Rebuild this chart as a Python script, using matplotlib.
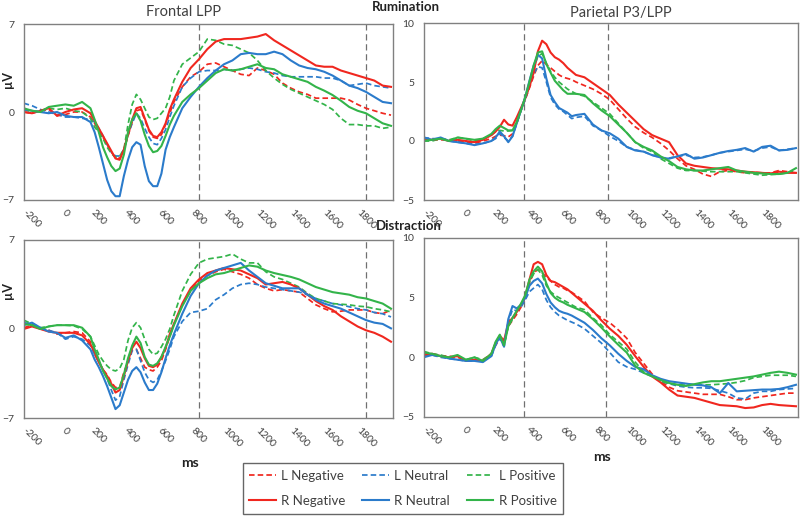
import matplotlib
matplotlib.use("Agg")
import matplotlib.pyplot as plt
from matplotlib.lines import Line2D

plt.rcParams['font.family'] = ['Lato', 'DejaVu Sans']

# time points (ms)
T = [-250, -200, -150, -100, -50, 0, 50, 100, 150,
     175, 200, 225, 250, 275, 300, 325, 350, 375, 400, 425, 450, 475, 500,
     525, 550, 575, 600, 625, 650,
     700, 750, 800, 850, 900, 950, 1000, 1050, 1100, 1150, 1200, 1250, 1300,
     1350, 1400, 1450, 1500, 1550, 1600, 1650, 1700, 1750, 1800, 1850, 1900, 1950]

xticks = [-200, 0, 200, 400, 600, 800, 1000, 1200, 1400, 1600, 1800]

# ---------------- Frontal LPP, Rumination ----------------
fr_rum_Lneg = [0.0, -0.1, 0.1, 0.2, -0.3, -0.2, 0.0, 0.0, -0.4,
               -0.9, -1.5, -2.0, -2.6, -3.2, -3.6, -3.7, -3.0, -1.9, -0.8, 0.1, 0.2, -0.6, -1.5,
               -2.0, -2.1, -1.8, -1.0, -0.1, 0.8,
               2.0, 2.8, 3.2, 3.8, 3.9, 3.6, 3.3, 3.0, 2.9, 3.5, 3.3, 3.0, 2.3,
               1.9, 1.6, 1.4, 1.1, 1.1, 1.1, 1.1, 0.95, 0.6, 0.3, 0.1, -0.1, -0.25]
fr_rum_Lneu = [0.7, 0.5, 0.2, 0.0, -0.2, -0.4, -0.4, -0.5, -0.6,
               -0.8, -1.3, -1.9, -2.6, -3.2, -3.5, -3.5, -3.0, -1.8, -0.9, -0.1, -0.5, -1.3, -2.0,
               -2.5, -2.6, -2.1, -1.4, -0.4, 0.5,
               2.0, 2.7, 3.2, 3.3, 3.3, 3.4, 3.3, 3.4, 3.5, 3.4, 3.2, 3.1, 2.9,
               2.8, 2.8, 2.8, 2.8, 2.7, 2.7, 2.5, 2.1, 2.2, 2.3, 2.1, 2.0, 1.9]
fr_rum_Lpos = [0.2, 0.0, 0.1, 0.3, 0.2, 0.3, 0.1, 0.0, -0.5,
               -1.2, -1.6, -2.1, -2.8, -3.3, -3.6, -3.5, -3.0, -1.0, 0.6, 1.4, 1.0, 0.3, -0.4,
               -0.6, -0.5, -0.1, 0.3, 1.2, 2.5,
               3.8, 4.3, 4.8, 5.8, 5.7, 5.4, 5.3, 5.0, 4.7, 4.1, 3.3, 2.7, 2.2,
               1.8, 1.5, 1.2, 0.9, 0.6, 0.2, -0.5, -1.0, -1.0, -1.1, -1.1, -1.3, -1.2]
fr_rum_Rneg = [0.0, -0.1, 0.1, 0.3, -0.3, 0.0, 0.2, 0.3, -0.1,
               -0.7, -1.3, -1.9, -2.5, -3.1, -3.7, -3.8, -3.0, -1.8, -0.6, 0.3, 0.4, -0.5, -1.4,
               -1.9, -2.0, -1.6, -0.9, 0.2, 1.0,
               2.4, 3.5, 4.2, 5.0, 5.6, 5.8, 5.8, 5.8, 5.9, 6.0, 6.2, 5.7, 5.3,
               4.9, 4.5, 4.1, 3.7, 3.6, 3.6, 3.3, 3.1, 2.9, 2.7, 2.5, 2.1, 2.0]
fr_rum_Rneu = [0.2, 0.1, 0.0, -0.1, 0.0, -0.3, -0.4, -0.4, -0.8,
               -1.6, -2.8, -4.1, -5.4, -6.3, -6.7, -6.7, -5.1, -3.8, -2.8, -2.4, -2.6, -4.3, -5.5,
               -5.9, -5.9, -4.9, -3.0, -2.0, -1.2,
               0.3, 1.2, 2.0, 2.7, 3.3, 3.8, 4.1, 4.6, 4.7, 4.6, 4.6, 4.8, 4.6,
               4.1, 3.7, 3.5, 3.4, 3.2, 2.9, 2.5, 2.1, 1.9, 1.6, 1.2, 0.8, 0.7]
fr_rum_Rpos = [0.3, 0.1, 0.0, 0.4, 0.5, 0.6, 0.5, 0.8, 0.3,
               -0.6, -1.6, -2.8, -3.6, -4.3, -4.7, -4.5, -3.4, -1.6, -0.6, -0.1, -0.7, -1.8, -2.7,
               -3.2, -3.1, -2.7, -1.9, -1.0, -0.3,
               0.8, 1.4, 1.9, 2.5, 3.1, 3.4, 3.3, 3.4, 3.6, 3.8, 3.5, 3.4, 3.0,
               2.8, 2.6, 2.4, 2.0, 1.7, 1.35, 0.9, 0.4, 0.1, -0.1, -0.5, -0.9, -1.1]

# ---------------- Frontal LPP, Distraction ----------------
fr_dis_Lneg = [0.1, 0.3, 0.0, -0.1, -0.4, -0.3, -0.2, -0.3, -1.0,
               -2.0, -2.6, -3.2, -3.6, -4.2, -4.6, -4.6, -3.4, -2.6, -1.6, -1.6, -2.3, -3.0, -3.2,
               -3.3, -3.0, -2.5, -1.6, -0.6, 0.4,
               1.9, 3.0, 3.8, 4.2, 4.5, 4.7, 4.5, 4.3, 4.0, 3.5, 3.2, 3.0, 3.1,
               3.0, 2.9, 2.4, 1.9, 1.6, 1.35, 1.4, 1.5, 1.5, 1.5, 1.3, 1.2, 1.5]
fr_dis_Lneu = [0.5, 0.4, 0.1, -0.1, -0.3, -0.8, -0.6, -0.8, -1.3,
               -2.0, -2.6, -3.2, -3.9, -4.8, -5.6, -5.3, -4.0, -2.8, -1.7, -1.6, -2.5, -3.4, -4.0,
               -4.2, -4.0, -3.3, -2.5, -1.6, -0.6,
               0.6, 1.3, 1.4, 1.6, 2.3, 2.7, 3.2, 3.5, 3.6, 3.5, 3.3, 3.2, 3.1,
               3.0, 2.9, 2.7, 2.4, 2.2, 2.0, 1.9, 1.75, 1.6, 1.5, 1.3, 1.2, 0.95]
fr_dis_Lpos = [0.7, 0.4, 0.1, 0.2, 0.3, 0.3, 0.25, 0.0, -0.6,
               -1.3, -2.0, -2.5, -2.9, -3.2, -3.3, -3.1, -2.4, -0.9, 0.1, 0.5, 0.1, -0.8, -1.6,
               -2.0, -1.9, -1.4, -0.8, 0.0, 1.1,
               3.0, 4.3, 5.2, 5.5, 5.6, 5.7, 5.9, 5.5, 5.2, 5.2, 4.5, 4.1, 3.9,
               3.6, 3.3, 2.8, 2.4, 2.2, 2.0, 1.95, 1.9, 1.8, 1.75, 1.6, 1.5, 1.35]
fr_dis_Rneg = [0.0, 0.2, 0.0, -0.2, -0.3, -0.3, -0.3, -0.5, -1.2,
               -1.8, -2.6, -3.2, -3.7, -4.3, -5.0, -4.8, -3.7, -2.5, -1.5, -1.0, -1.5, -2.3, -2.9,
               -3.0, -2.8, -2.2, -1.5, -0.4, 0.4,
               2.0, 3.2, 3.9, 4.4, 4.6, 4.8, 4.7, 4.6, 4.3, 4.0, 3.5, 3.6, 3.7,
               3.5, 3.2, 2.7, 2.2, 1.8, 1.5, 1.0, 0.6, 0.2, -0.1, -0.3, -0.6, -1.0]
fr_dis_Rneu = [0.3, 0.5, 0.1, -0.2, -0.3, -0.7, -0.5, -0.9, -1.6,
               -2.4, -3.0, -3.7, -4.5, -5.4, -6.3, -6.0, -5.0, -4.0, -3.3, -3.0, -3.4, -4.2, -4.8,
               -4.8, -4.3, -3.4, -2.3, -1.3, -0.4,
               1.2, 2.6, 3.6, 4.2, 4.6, 4.8, 5.0, 5.2, 4.6, 4.1, 3.6, 3.4, 3.2,
               3.2, 3.2, 2.7, 2.3, 2.0, 1.8, 1.6, 1.3, 1.0, 0.7, 0.5, 0.4, 0.05]
fr_dis_Rpos = [0.4, 0.3, 0.0, 0.2, 0.3, 0.3, 0.3, 0.1, -0.6,
               -1.6, -2.4, -3.3, -3.9, -4.5, -4.75, -4.6, -3.6, -2.3, -1.3, -0.6, -1.1, -2.2, -2.8,
               -2.9, -2.7, -2.2, -1.4, -0.6, 0.3,
               1.8, 3.0, 3.6, 4.0, 4.3, 4.4, 4.6, 4.8, 5.0, 4.9, 4.6, 4.4, 4.25,
               4.1, 3.9, 3.6, 3.3, 3.1, 2.9, 2.8, 2.7, 2.5, 2.4, 2.2, 2.0, 1.6]

# ---------------- Parietal P3/LPP, Rumination ----------------
pa_rum_Lneg = [0.2, 0.1, 0.1, 0.1, 0.0, -0.1, -0.2, 0.0, 0.2,
               0.4, 0.5, 0.45, 0.35, 0.6, 1.5, 2.6, 3.5, 4.5, 5.5, 6.4, 6.8, 6.5, 6.2,
               5.9, 5.6, 5.4, 5.3, 5.2, 5.0,
               4.7, 4.4, 4.0, 3.5, 2.7, 1.9, 1.2, 0.7, 0.3, -0.2, -0.8, -1.5, -2.1,
               -2.4, -2.8, -3.0, -2.6, -2.5, -2.6, -2.7, -2.65, -2.7, -2.7, -2.5, -2.6, -2.7]
pa_rum_Lneu = [0.3, 0.2, 0.2, 0.0, -0.1, -0.2, -0.3, -0.2, 0.0,
               0.2, 0.65, 0.3, 0.0, 0.4, 1.5, 2.6, 3.5, 4.7, 5.7, 6.3, 6.2, 5.0, 3.7,
               3.1, 2.7, 2.5, 2.2, 1.9, 2.0,
               2.1, 1.3, 0.9, 0.4, 0.0, -0.5, -0.75, -0.9, -1.2, -1.4, -1.45, -1.3, -1.2,
               -1.4, -1.35, -1.2, -1.0, -0.9, -0.8, -0.7, -0.85, -0.6, -0.5, -0.8, -0.7, -0.6]
pa_rum_Lpos = [0.0, 0.0, 0.2, 0.1, 0.3, 0.2, 0.0, 0.2, 0.5,
               0.8, 0.9, 0.85, 0.85, 0.9, 1.5, 2.6, 3.6, 4.8, 6.1, 7.2, 7.4, 6.6, 5.9,
               5.4, 5.0, 4.7, 4.4, 4.2, 4.0,
               3.8, 3.3, 2.8, 2.3, 1.5, 0.7, -0.1, -0.6, -0.9, -1.5, -1.9, -2.3, -2.5,
               -2.5, -2.55, -2.6, -2.6, -2.6, -2.6, -2.7, -2.8, -2.9, -2.85, -2.8, -2.7, -2.5]
pa_rum_Rneg = [0.1, 0.1, 0.2, 0.0, 0.1, 0.0, -0.1, 0.1, 0.5,
               0.8, 1.2, 1.8, 1.4, 1.3, 2.0, 2.8, 3.6, 4.6, 5.8, 7.6, 8.5, 8.2, 7.5,
               7.1, 6.9, 6.6, 6.2, 5.9, 5.6,
               5.4, 4.9, 4.4, 3.9, 3.1, 2.4, 1.7, 1.0, 0.5, 0.2, -0.1, -1.2, -1.9,
               -2.1, -2.2, -2.3, -2.35, -2.4, -2.5, -2.6, -2.65, -2.7, -2.75, -2.6, -2.7, -2.7]
pa_rum_Rneu = [0.3, 0.1, 0.3, 0.0, -0.1, -0.2, -0.35, -0.2, 0.0,
               0.3, 0.8, 0.4, -0.1, 0.4, 1.5, 2.6, 3.7, 5.1, 6.4, 7.3, 7.0, 5.3, 3.9,
               3.3, 2.8, 2.6, 2.4, 2.1, 2.2,
               2.3, 1.4, 0.9, 0.65, 0.2, -0.5, -0.8, -0.9, -1.2, -1.4, -1.5, -1.3, -1.1,
               -1.5, -1.4, -1.2, -1.0, -0.85, -0.75, -0.6, -0.9, -0.5, -0.4, -0.8, -0.75, -0.6]
pa_rum_Rpos = [0.0, 0.1, 0.2, 0.0, 0.3, 0.2, 0.1, 0.2, 0.6,
               1.0, 1.3, 1.1, 0.9, 0.9, 1.6, 2.6, 3.7, 5.0, 6.4, 7.5, 7.6, 6.5, 5.8,
               5.1, 4.7, 4.3, 4.0, 4.0, 4.0,
               3.9, 3.2, 2.6, 2.1, 1.4, 0.7, -0.1, -0.5, -0.8, -1.3, -1.7, -2.2, -2.4,
               -2.5, -2.5, -2.4, -2.3, -2.2, -2.5, -2.6, -2.7, -2.75, -2.8, -2.8, -2.7, -2.3]

# ---------------- Parietal P3/LPP, Distraction ----------------
pa_dis_Lneg = [0.3, 0.2, 0.1, 0.1, 0.0, -0.2, -0.3, -0.2, 0.2,
               1.0, 1.6, 1.2, 2.6, 3.1, 3.6, 4.2, 5.0, 6.2, 7.1, 7.35, 7.1, 6.7, 6.4,
               6.1, 5.9, 5.8, 5.6, 5.45, 5.2,
               4.7, 3.8, 3.3, 2.9, 2.3, 1.6, 0.4, -0.5, -1.4, -2.0, -2.5, -2.8, -2.9,
               -3.0, -3.1, -3.1, -3.1, -3.3, -3.55, -3.55, -3.4, -3.3, -3.2, -3.1, -3.0, -3.0]
pa_dis_Lneu = [0.1, 0.2, 0.0, -0.1, -0.2, -0.3, -0.3, -0.3, 0.1,
               1.0, 1.6, 0.9, 3.0, 4.0, 3.9, 4.2, 4.8, 5.5, 5.8, 6.1, 5.7, 4.8, 4.2,
               3.8, 3.5, 3.3, 3.1, 2.95, 2.8,
               2.4, 1.8, 1.2, 0.4, -0.4, -0.8, -1.0, -1.3, -1.6, -2.0, -2.2, -2.4, -2.5,
               -2.55, -2.55, -2.6, -2.8, -3.0, -3.4, -3.5, -3.0, -2.85, -2.85, -2.7, -2.65, -2.6]
pa_dis_Lpos = [0.5, 0.3, 0.2, 0.0, 0.1, -0.2, 0.0, -0.2, 0.3,
               1.2, 1.8, 1.1, 2.6, 3.2, 3.8, 4.4, 5.1, 6.3, 7.0, 7.35, 6.9, 6.0, 5.5,
               5.2, 5.0, 4.8, 4.6, 4.4, 4.2,
               4.0, 3.3, 2.7, 1.9, 1.3, 0.7, -0.4, -1.2, -1.6, -2.0, -2.2, -2.3, -2.2,
               -2.3, -2.3, -2.3, -2.25, -2.2, -2.1, -1.95, -1.7, -1.6, -1.5, -1.5, -1.5, -1.6]
pa_dis_Rneg = [0.2, 0.3, 0.1, 0.0, 0.1, -0.3, -0.2, -0.3, 0.3,
               1.2, 1.8, 1.4, 2.9, 3.3, 3.8, 4.4, 5.1, 6.5, 7.8, 8.0, 7.8, 6.9, 6.4,
               6.3, 6.1, 5.9, 5.7, 5.4, 5.1,
               4.5, 3.9, 3.1, 2.4, 1.8, 1.05, 0.1, -0.8, -1.6, -2.1, -2.7, -3.2, -3.3,
               -3.4, -3.6, -3.8, -4.0, -4.05, -4.1, -4.25, -4.2, -4.0, -3.9, -4.0, -4.05, -4.1]
pa_dis_Rneu = [0.0, 0.2, 0.1, -0.1, -0.2, -0.3, -0.3, -0.4, 0.1,
               1.1, 1.7, 0.9, 3.2, 4.3, 4.1, 4.4, 5.0, 6.0, 6.4, 6.6, 6.2, 5.3, 4.6,
               4.2, 3.9, 3.75, 3.65, 3.5, 3.3,
               2.9, 2.3, 1.6, 1.0, 0.3, -0.3, -0.8, -1.0, -1.5, -1.8, -2.0, -2.1, -2.2,
               -2.3, -2.35, -2.5, -3.0, -2.15, -2.85, -2.8, -2.75, -2.7, -2.7, -2.65, -2.5, -2.3]
pa_dis_Rpos = [0.4, 0.3, 0.1, 0.0, 0.2, -0.2, 0.0, -0.3, 0.3,
               1.3, 1.9, 1.0, 2.6, 3.3, 3.9, 4.5, 5.2, 6.5, 7.2, 7.6, 7.2, 6.2, 5.4,
               5.0, 4.75, 4.6, 4.4, 4.25, 4.1,
               3.8, 3.2, 2.5, 1.75, 1.05, 0.4, -0.7, -1.3, -1.6, -1.9, -2.15, -2.3, -2.4,
               -2.25, -2.1, -2.0, -2.0, -1.9, -1.8, -1.7, -1.6, -1.45, -1.3, -1.2, -1.3, -1.45]

labels = ['L Negative', 'L Neutral', 'L Positive', 'R Negative', 'R Neutral', 'R Positive']

RED = '#F0271F'
BLUE = '#2B7BCB'
GREEN = '#33B44A'
TXT = '#404040'
DASH = (0, (3.2, 1.8))

fig = plt.figure(figsize=(8.0, 5.16), dpi=100)

W, H = 800.0, 516.0


def ax_at(x0, y0, x1, y1):
    return fig.add_axes([x0 / W, 1 - y1 / H, (x1 - x0) / W, (y1 - y0) / H])


panels = [
    (ax_at(24, 24, 393, 200), [fr_rum_Lneg, fr_rum_Lneu, fr_rum_Lpos, fr_rum_Rneg, fr_rum_Rneu, fr_rum_Rpos],
     (-7, 7), [-7, 0, 7], [800, 1800]),
    (ax_at(424, 23, 798, 200), [pa_rum_Lneg, pa_rum_Lneu, pa_rum_Lpos, pa_rum_Rneg, pa_rum_Rneu, pa_rum_Rpos],
     (-5, 10), [-5, 0, 5, 10], [340, 840]),
    (ax_at(24, 240, 393, 418), [fr_dis_Lneg, fr_dis_Lneu, fr_dis_Lpos, fr_dis_Rneg, fr_dis_Rneu, fr_dis_Rpos],
     (-7, 7), [-7, 0, 7], [800, 1800]),
    (ax_at(424, 238, 798, 417), [pa_dis_Lneg, pa_dis_Lneu, pa_dis_Lpos, pa_dis_Rneg, pa_dis_Rneu, pa_dis_Rpos],
     (-5, 10), [-5, 0, 5, 10], [340, 825]),
]

colors = [RED, BLUE, GREEN, RED, BLUE, GREEN]
styles = [DASH, DASH, DASH, '-', '-', '-']
widths = [1.25, 1.25, 1.25, 1.5, 1.5, 1.5]

for ax, series, ylim, yt, vlines in panels:
    for s, c, ls, lw in zip(series, colors, styles, widths):
        ax.plot(T, s, color=c, linestyle=ls, linewidth=lw)
    for v in vlines:
        ax.axvline(v, color='#707070', linestyle=(0, (5, 3)), linewidth=0.9, zorder=0)
    ax.set_xlim(-248, 1962)
    ax.set_ylim(*ylim)
    ax.set_yticks(yt)
    ax.set_xticks(xticks)
    ax.set_xticklabels([str(x) for x in xticks], rotation=-45, ha='center', va='top',
                       fontsize=7.5, color=TXT)
    ax.tick_params(axis='both', length=0, labelsize=7.5, labelcolor=TXT)
    ax.tick_params(axis='x', pad=6)
    ax.tick_params(axis='y', pad=7)
    for sp in ax.spines.values():
        sp.set_color('#808080')
        sp.set_linewidth(1.0)

fig.text(184 / W, 1 - 12.5 / H, 'Frontal LPP', ha='center', va='center', fontsize=10.5, color=TXT)
fig.text(621 / W, 1 - 12.5 / H, 'Parietal P3/LPP', ha='center', va='center', fontsize=10.5, color=TXT)
fig.text(406 / W, 1 - 7 / H, 'Rumination', ha='center', va='center', fontsize=9.5,
         fontweight='bold', color='#222222')
fig.text(409 / W, 1 - 226 / H, 'Distraction', ha='center', va='center', fontsize=9.5,
         fontweight='bold', color='#222222')
fig.text(8 / W, 1 - 80 / H, 'µV', ha='center', va='center', rotation=90, fontsize=9,
         fontweight='bold', color='#222222')
fig.text(8 / W, 1 - 291 / H, 'µV', ha='center', va='center', rotation=90, fontsize=9,
         fontweight='bold', color='#222222')
fig.text(190 / W, 1 - 463 / H, 'ms', ha='center', va='center', fontsize=10,
         fontweight='bold', color='#222222')
fig.text(602 / W, 1 - 457 / H, 'ms', ha='center', va='center', fontsize=10,
         fontweight='bold', color='#222222')

handles = [Line2D([], [], color=c, linestyle=ls, linewidth=lw) for c, ls, lw in zip(colors, styles, widths)]
order = [0, 3, 1, 4, 2, 5]
leg = fig.legend([handles[i] for i in order], [labels[i] for i in order], ncol=3,
                 loc='center', bbox_to_anchor=(403 / W, 1 - 488.5 / H),
                 fontsize=9.5, frameon=True, fancybox=False, edgecolor='#404040',
                 handlelength=2.0, handletextpad=0.4, columnspacing=1.3,
                 labelspacing=1.0, borderpad=0.5)
leg.get_frame().set_linewidth(1.0)
for t in leg.get_texts():
    t.set_color(TXT)

fig.savefig('out.png', dpi=100)
